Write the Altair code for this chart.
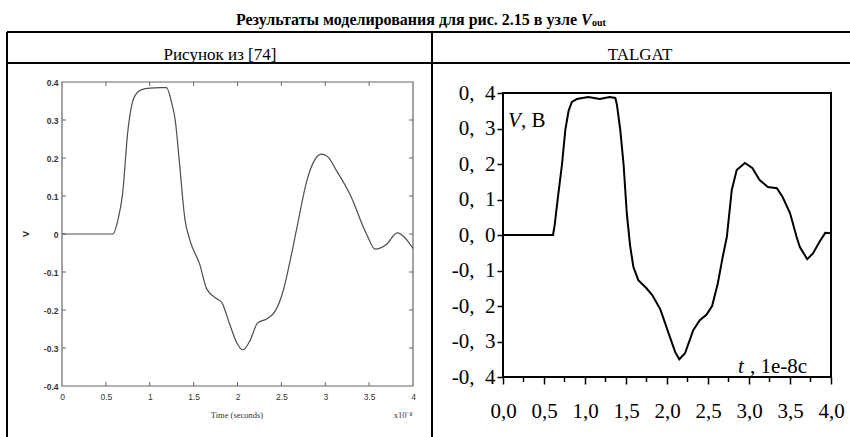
import altair as alt
import pandas as pd

# ---- data: t in units of 1e-8 s, V in volts ----
# curve reproduced from [74]
ref_t = [0.0, 0.58, 0.64, 0.69, 0.75, 0.80, 0.85, 0.91, 1.00, 1.12, 1.19, 1.25, 1.29,
         1.34, 1.40, 1.46, 1.57, 1.65, 1.77, 1.82, 1.91, 2.00, 2.06, 2.14, 2.23, 2.33,
         2.43, 2.52, 2.60, 2.68, 2.79, 2.88, 2.96, 3.03, 3.13, 3.28, 3.47, 3.57, 3.70,
         3.82, 3.90, 3.96, 4.00]
ref_v = [0.0, 0.0, 0.04, 0.105, 0.27, 0.345, 0.37, 0.38, 0.384, 0.385, 0.385, 0.345, 0.30,
         0.184, 0.04, -0.018, -0.08, -0.145, -0.171, -0.18, -0.237, -0.29, -0.305, -0.282,
         -0.234, -0.224, -0.203, -0.15, -0.07, 0.02, 0.14, 0.195, 0.21, 0.203, 0.166, 0.105,
         0.0, -0.04, -0.027, 0.003, -0.008, -0.025, -0.038]

# TALGAT result
tal_t = [0.0, 0.61, 0.63, 0.67, 0.72, 0.76, 0.80, 0.84, 0.90, 1.04, 1.18, 1.30, 1.37, 1.39,
         1.43, 1.47, 1.51, 1.55, 1.59, 1.65, 1.75, 1.82, 1.92, 2.02, 2.10, 2.15, 2.22, 2.32,
         2.40, 2.48, 2.55, 2.62, 2.68, 2.73, 2.79, 2.85, 2.95, 3.04, 3.13, 3.23, 3.34, 3.41,
         3.50, 3.58, 3.62, 3.71, 3.78, 3.86, 3.93, 4.00]
tal_v = [0.0, 0.0, 0.028, 0.107, 0.20, 0.296, 0.35, 0.375, 0.383, 0.389, 0.383, 0.389, 0.386,
         0.366, 0.296, 0.20, 0.06, -0.03, -0.09, -0.127, -0.15, -0.169, -0.21, -0.277, -0.33,
         -0.35, -0.333, -0.268, -0.24, -0.225, -0.20, -0.136, -0.061, -0.005, 0.127, 0.183,
         0.203, 0.189, 0.155, 0.135, 0.132, 0.107, 0.062, -0.005, -0.034, -0.068, -0.052,
         -0.019, 0.006, 0.005]

x_ticks = [0.0, 0.5, 1.0, 1.5, 2.0, 2.5, 3.0, 3.5, 4.0]
x_minor = [0.25, 0.75, 1.25, 1.75, 2.25, 2.75, 3.25, 3.75]
y_ticks = [-0.4, -0.3, -0.2, -0.1, 0.0, 0.1, 0.2, 0.3, 0.4]

W, H = 850, 437
# pixel extents of the two plot areas
LX, LY = [62, 413], [386, 82]
RX, RY = [503, 831], [377, 93]

ref_df = pd.DataFrame({"t": ref_t, "v": ref_v})
tal_df = pd.DataFrame({"t": tal_t, "v": tal_v})
xin_df = pd.DataFrame({"t": x_ticks[1:-1]})
xm_df = pd.DataFrame({"t": x_minor})
yin_df = pd.DataFrame({"v": y_ticks[1:-1]})
one = pd.DataFrame({"a": [0]})

SERIF = "Liberation Serif"
SANS = "Liberation Sans"


def xs(rng):
    return alt.Scale(domain=[0, 4], range=rng, nice=False, zero=False)


def ys(rng):
    return alt.Scale(domain=[-0.4, 0.4], range=rng, nice=False, zero=False)


def text(s, x, y, **kw):
    return alt.Chart(one).mark_text(text=s, **kw).encode(x=alt.value(x), y=alt.value(y))


def hrule(x1, x2, y, color="black", w=2.0):
    return alt.Chart(one).mark_rule(color=color, strokeWidth=w).encode(
        x=alt.value(x1), x2=alt.value(x2), y=alt.value(y))


def vrule(x, y1, y2, color="black", w=2.0):
    return alt.Chart(one).mark_rule(color=color, strokeWidth=w).encode(
        x=alt.value(x), y=alt.value(y1), y2=alt.value(y2))


def frame(xr, yr, color, w):
    return alt.Chart(one).mark_rect(fillOpacity=0, stroke=color, strokeWidth=w).encode(
        x=alt.value(xr[0]), x2=alt.value(xr[1]), y=alt.value(yr[1]), y2=alt.value(yr[0]))


# hyphen instead of the typographic minus that d3-format emits
LEFT_FMT = "replace(format(datum.value, '~g'), '\u2212', '-')"
RX_FMT = "replace(replace(format(datum.value, '.1f'), '.', ','), '\u2212', '-')"
RY_FMT = "replace(replace(format(datum.value, '.1f'), '.', ',\u2002'), '\u2212', '-')"

# ---- left panel (scanned MATLAB figure) ----
GRAY = "#666666"
left_line = alt.Chart(ref_df).mark_line(color="#4d4d4d", strokeWidth=1.2,
                                         interpolate="monotone").encode(
    x=alt.X("t:Q", scale=xs(LX), title="",
            axis=alt.Axis(orient="bottom", offset=LY[0] - H, values=x_ticks,
                          labelExpr=LEFT_FMT, domain=False, ticks=False, grid=False,
                          labelFlush=False, labelPadding=6, labelFont=SANS,
                          labelFontSize=8.5, labelColor="#333333")),
    y=alt.Y("v:Q", scale=ys(LY), title="",
            axis=alt.Axis(orient="left", offset=-LX[0], values=y_ticks,
                          labelExpr=LEFT_FMT, domain=False, ticks=False, grid=False,
                          labelFlush=False, labelPadding=4, labelFont=SANS,
                          labelFontSize=8.5, labelColor="#333333",
                          labelFontWeight="bold")),
)

left_ticks = [
    alt.Chart(xin_df).mark_rule(color=GRAY, strokeWidth=1).encode(
        x=alt.X("t:Q", scale=xs(LX), axis=None), y=alt.value(LY[0] - 4), y2=alt.value(LY[0])),
    alt.Chart(xin_df).mark_rule(color=GRAY, strokeWidth=1).encode(
        x=alt.X("t:Q", scale=xs(LX), axis=None), y=alt.value(LY[1]), y2=alt.value(LY[1] + 4)),
    alt.Chart(yin_df).mark_rule(color=GRAY, strokeWidth=1).encode(
        y=alt.Y("v:Q", scale=ys(LY), axis=None), x=alt.value(LX[0]), x2=alt.value(LX[0] + 4)),
    alt.Chart(yin_df).mark_rule(color=GRAY, strokeWidth=1).encode(
        y=alt.Y("v:Q", scale=ys(LY), axis=None), x=alt.value(LX[1] - 4), x2=alt.value(LX[1])),
]

# ---- right panel (TALGAT) ----
right_line = alt.Chart(tal_df).mark_line(color="black", strokeWidth=2).encode(
    x=alt.X("t:Q", scale=xs(RX), title="",
            axis=alt.Axis(orient="bottom", offset=RY[0] - H, values=x_ticks,
                          labelExpr=RX_FMT, domain=False, grid=False, tickSize=7,
                          tickWidth=1.5, tickColor="black", labelFlush=False,
                          labelOverlap=False, labelPadding=16, labelFont=SERIF,
                          labelFontSize=21, labelColor="black")),
    y=alt.Y("v:Q", scale=ys(RY), title="",
            axis=alt.Axis(orient="left", offset=-RX[0], values=y_ticks,
                          labelExpr=RY_FMT, domain=False, grid=False, tickSize=6,
                          tickWidth=1.5, tickColor="black", labelFlush=False,
                          labelOverlap=False, labelPadding=2, labelFont=SERIF,
                          labelFontSize=21, labelColor="black")),
)

right_minor = alt.Chart(xm_df).mark_rule(color="black", strokeWidth=1.5).encode(
    x=alt.X("t:Q", scale=xs(RX), axis=None), y=alt.value(RY[0]), y2=alt.value(RY[0] + 5))

layers = [
    # table grid
    hrule(7, 850, 32), hrule(7, 850, 63),
    vrule(7, 32, 437), vrule(432, 32, 437),
    # caption and column headers
    text("Результаты моделирования для рис. 2.15 в узле", 577, 20, align="right",
         font=SERIF, fontSize=16, fontWeight="bold", color="black"),
    text("V", 581, 20, align="left", font=SERIF, fontSize=16, fontWeight="bold",
         fontStyle="italic", color="black"),
    text("out", 592, 23, align="left", font=SERIF, fontSize=10, fontWeight="bold",
         color="black"),
    text("Рисунок из [74]", 220, 55, align="center", font=SERIF, fontSize=17, color="black"),
    text("TALGAT", 640, 55, align="center", font=SERIF, fontSize=17, color="black"),
    # left panel
    frame(LX, LY, GRAY, 1.2),
    *left_ticks,
    left_line,
    text("Time (seconds)", 237, 415, align="center", font=SERIF, fontSize=8.5,
         color="#333333"),
    text("x10⁻⁸", 403, 415, align="center", font=SERIF, fontSize=8.5, color="#333333"),
    text("V", 26, 234, align="center", baseline="middle", angle=270, font=SANS,
         fontSize=9, fontWeight="bold", color="#333333"),
    # right panel
    frame(RX, RY, "black", 2),
    right_minor,
    right_line,
    text("V", 508, 121, align="left", font=SERIF, fontSize=21, fontStyle="italic",
         color="black"),
    text(", B", 521, 121, align="left", font=SERIF, fontSize=21, color="black"),
    text("t", 738, 367, align="left", font=SERIF, fontSize=21, fontStyle="italic",
         color="black"),
    text(", 1e-8c", 750, 367, align="left", font=SERIF, fontSize=21, color="black"),
]

chart = alt.layer(*layers).resolve_scale(x="independent", y="independent").resolve_axis(
    x="independent", y="independent").properties(
    width=W, height=H, autosize=alt.AutoSizeParams(type="none"), padding=0,
    background="white",
).configure_view(stroke=None)

chart.save("out.html", embed_options={"renderer": "svg", "actions": False})
